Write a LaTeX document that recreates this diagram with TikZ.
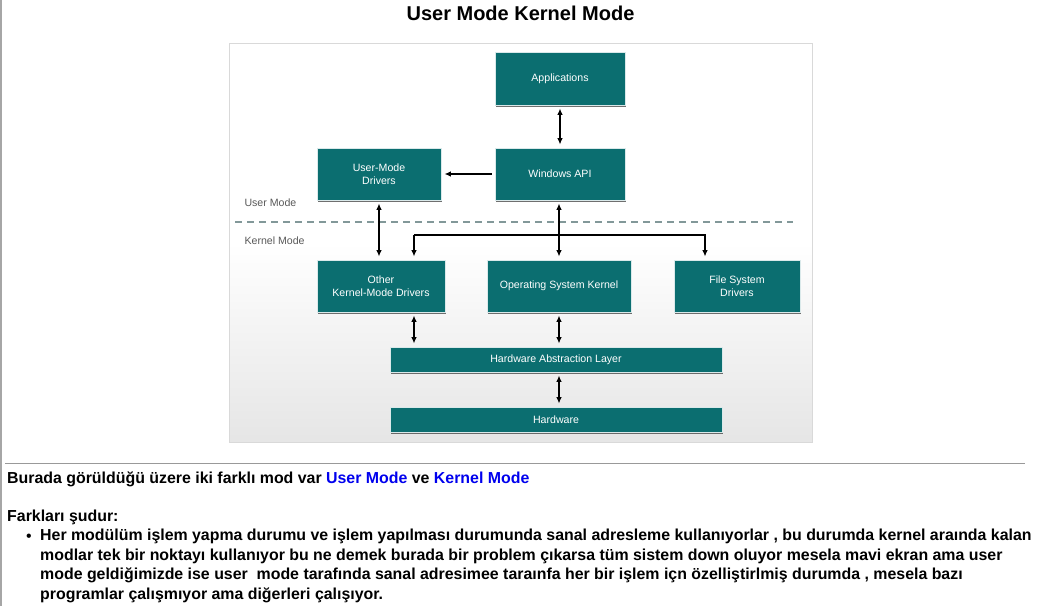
\documentclass[tikz,border=0pt]{standalone}
\usepackage{fontspec}
\setmainfont{Liberation Sans}
\usetikzlibrary{arrows.meta,shadows}
\definecolor{boxteal}{HTML}{0B6E70}
\definecolor{linkblue}{HTML}{0000EE}
\tikzset{
    layer/.style={fill=boxteal, draw=white!85!boxteal, line width=0.8pt,
        text=white, font=\fontsize{10.6}{12.5}\selectfont, align=center,
        inner sep=0pt, drop shadow={shadow xshift=1.2pt, shadow yshift=-2pt, opacity=0.75, fill=black!75}},
    link/.style={black, line width=1.3pt, shorten <=3pt, shorten >=3pt,
        >={Latex[length=6.5pt,width=5.5pt]}},
    modelabel/.style={text=black!65, font=\fontsize{10.6}{12}\selectfont, anchor=west},
    prose/.style={font=\bfseries\fontsize{15.9}{19.6}\selectfont, anchor=north west, inner sep=0pt, align=left}
}
\begin{document}
\begin{tikzpicture}[x=1pt,y=-1pt]
    \useasboundingbox (0,0) rectangle (1041,606);
    \fill[white] (0,0) rectangle (1041,606);
    \draw[black!35, line width=1.5pt] (0.75,0) -- (0.75,606);

    \node[font=\bfseries\fontsize{20}{23}\selectfont] (title) at (520.5,13) {User Mode Kernel Mode};

    % screenshot area
    \shade[top color=white, bottom color=black!10, middle color=white] (229,43) rectangle (812,442);
    \draw[black!15, line width=1pt] (229,43) rectangle (812,442);

    % boxes
    \node[layer, minimum width=130pt, minimum height=53pt] (app) at (560,78.5) {Applications};
    \node[layer, minimum width=130pt, minimum height=52pt] (winapi) at (560,174) {Windows API};
    \node[layer, minimum width=124pt, minimum height=52pt] (umd) at (379,174) {User-Mode\\Drivers};
    \node[layer, minimum width=128pt, minimum height=52pt] (okmd) at (381,286) {Other\\Kernel-Mode Drivers};
    \node[layer, minimum width=144pt, minimum height=52pt] (kernel) at (559,286) {Operating System Kernel};
    \node[layer, minimum width=126pt, minimum height=52pt] (fsd) at (737,286) {File System\\Drivers};
    \node[layer, minimum width=332pt, minimum height=25pt] (hal) at (556,359.5) {Hardware Abstraction Layer};
    \node[layer, minimum width=332pt, minimum height=25pt] (hw) at (556,419.5) {Hardware};

    % user / kernel border
    \draw[boxteal!45!black!50, line width=1.2pt, dash pattern=on 7pt off 5pt] (235,222) -- (793,222);
    \node[modelabel] (usermode) at (241,203) {User Mode};
    \node[modelabel] (kernelmode) at (241,241) {Kernel Mode};

    % connectors
    \draw[link, <->] (app) -- (winapi);
    \draw[link, ->] (winapi.west) -- (umd.east);
    \draw[link, <->] (umd.south) -- (umd.south |- okmd.north);
    \draw[link, <->] (winapi.south -| kernel.north) -- (kernel.north);
    \coordinate (forkl) at (414,235);
    \coordinate (forkr) at (705,235);
    \draw[link, ->, shorten <=0pt] (forkl) -- (forkl |- okmd.north);
    \draw[link, ->, shorten <=0pt] (forkl) -- (forkr) -- (forkr |- fsd.north);
    \draw[link, <->] (forkl |- okmd.south) -- (forkl |- hal.north);
    \draw[link, <->] (kernel.south) -- (kernel.south |- hal.north);
    \draw[link, <->] (hal.south -| kernel.south) -- (hw.north -| kernel.south);

    % notes below
    \draw[black!40, line width=1pt] (5,463) -- (1025,463);
    \node[prose] (intro) at (7,472) {Burada görüldüğü üzere iki farklı mod var \textcolor{linkblue}{User Mode} ve \textcolor{linkblue}{Kernel Mode}};
    \node[prose] (diff) at (7,510) {Farkları şudur:};
    \node[prose, anchor=base west, font=\fontsize{15.9}{19.6}\selectfont] (bullet) at (26,541) {•};
    \node[prose] (item) at (40,529) {Her modülüm işlem yapma durumu ve işlem yapılması durumunda sanal adresleme kullanıyorlar , bu durumda kernel araında kalan\\
        modlar tek bir noktayı kullanıyor bu ne demek burada bir problem çıkarsa tüm sistem down oluyor mesela mavi ekran ama user\\
        mode geldiğimizde ise user \ mode tarafında sanal adresimee taraınfa her bir işlem içn özelliştirlmiş durumda , mesela bazı\\
        programlar çalışmıyor ama diğerleri çalışıyor.};
\end{tikzpicture}
\end{document}
